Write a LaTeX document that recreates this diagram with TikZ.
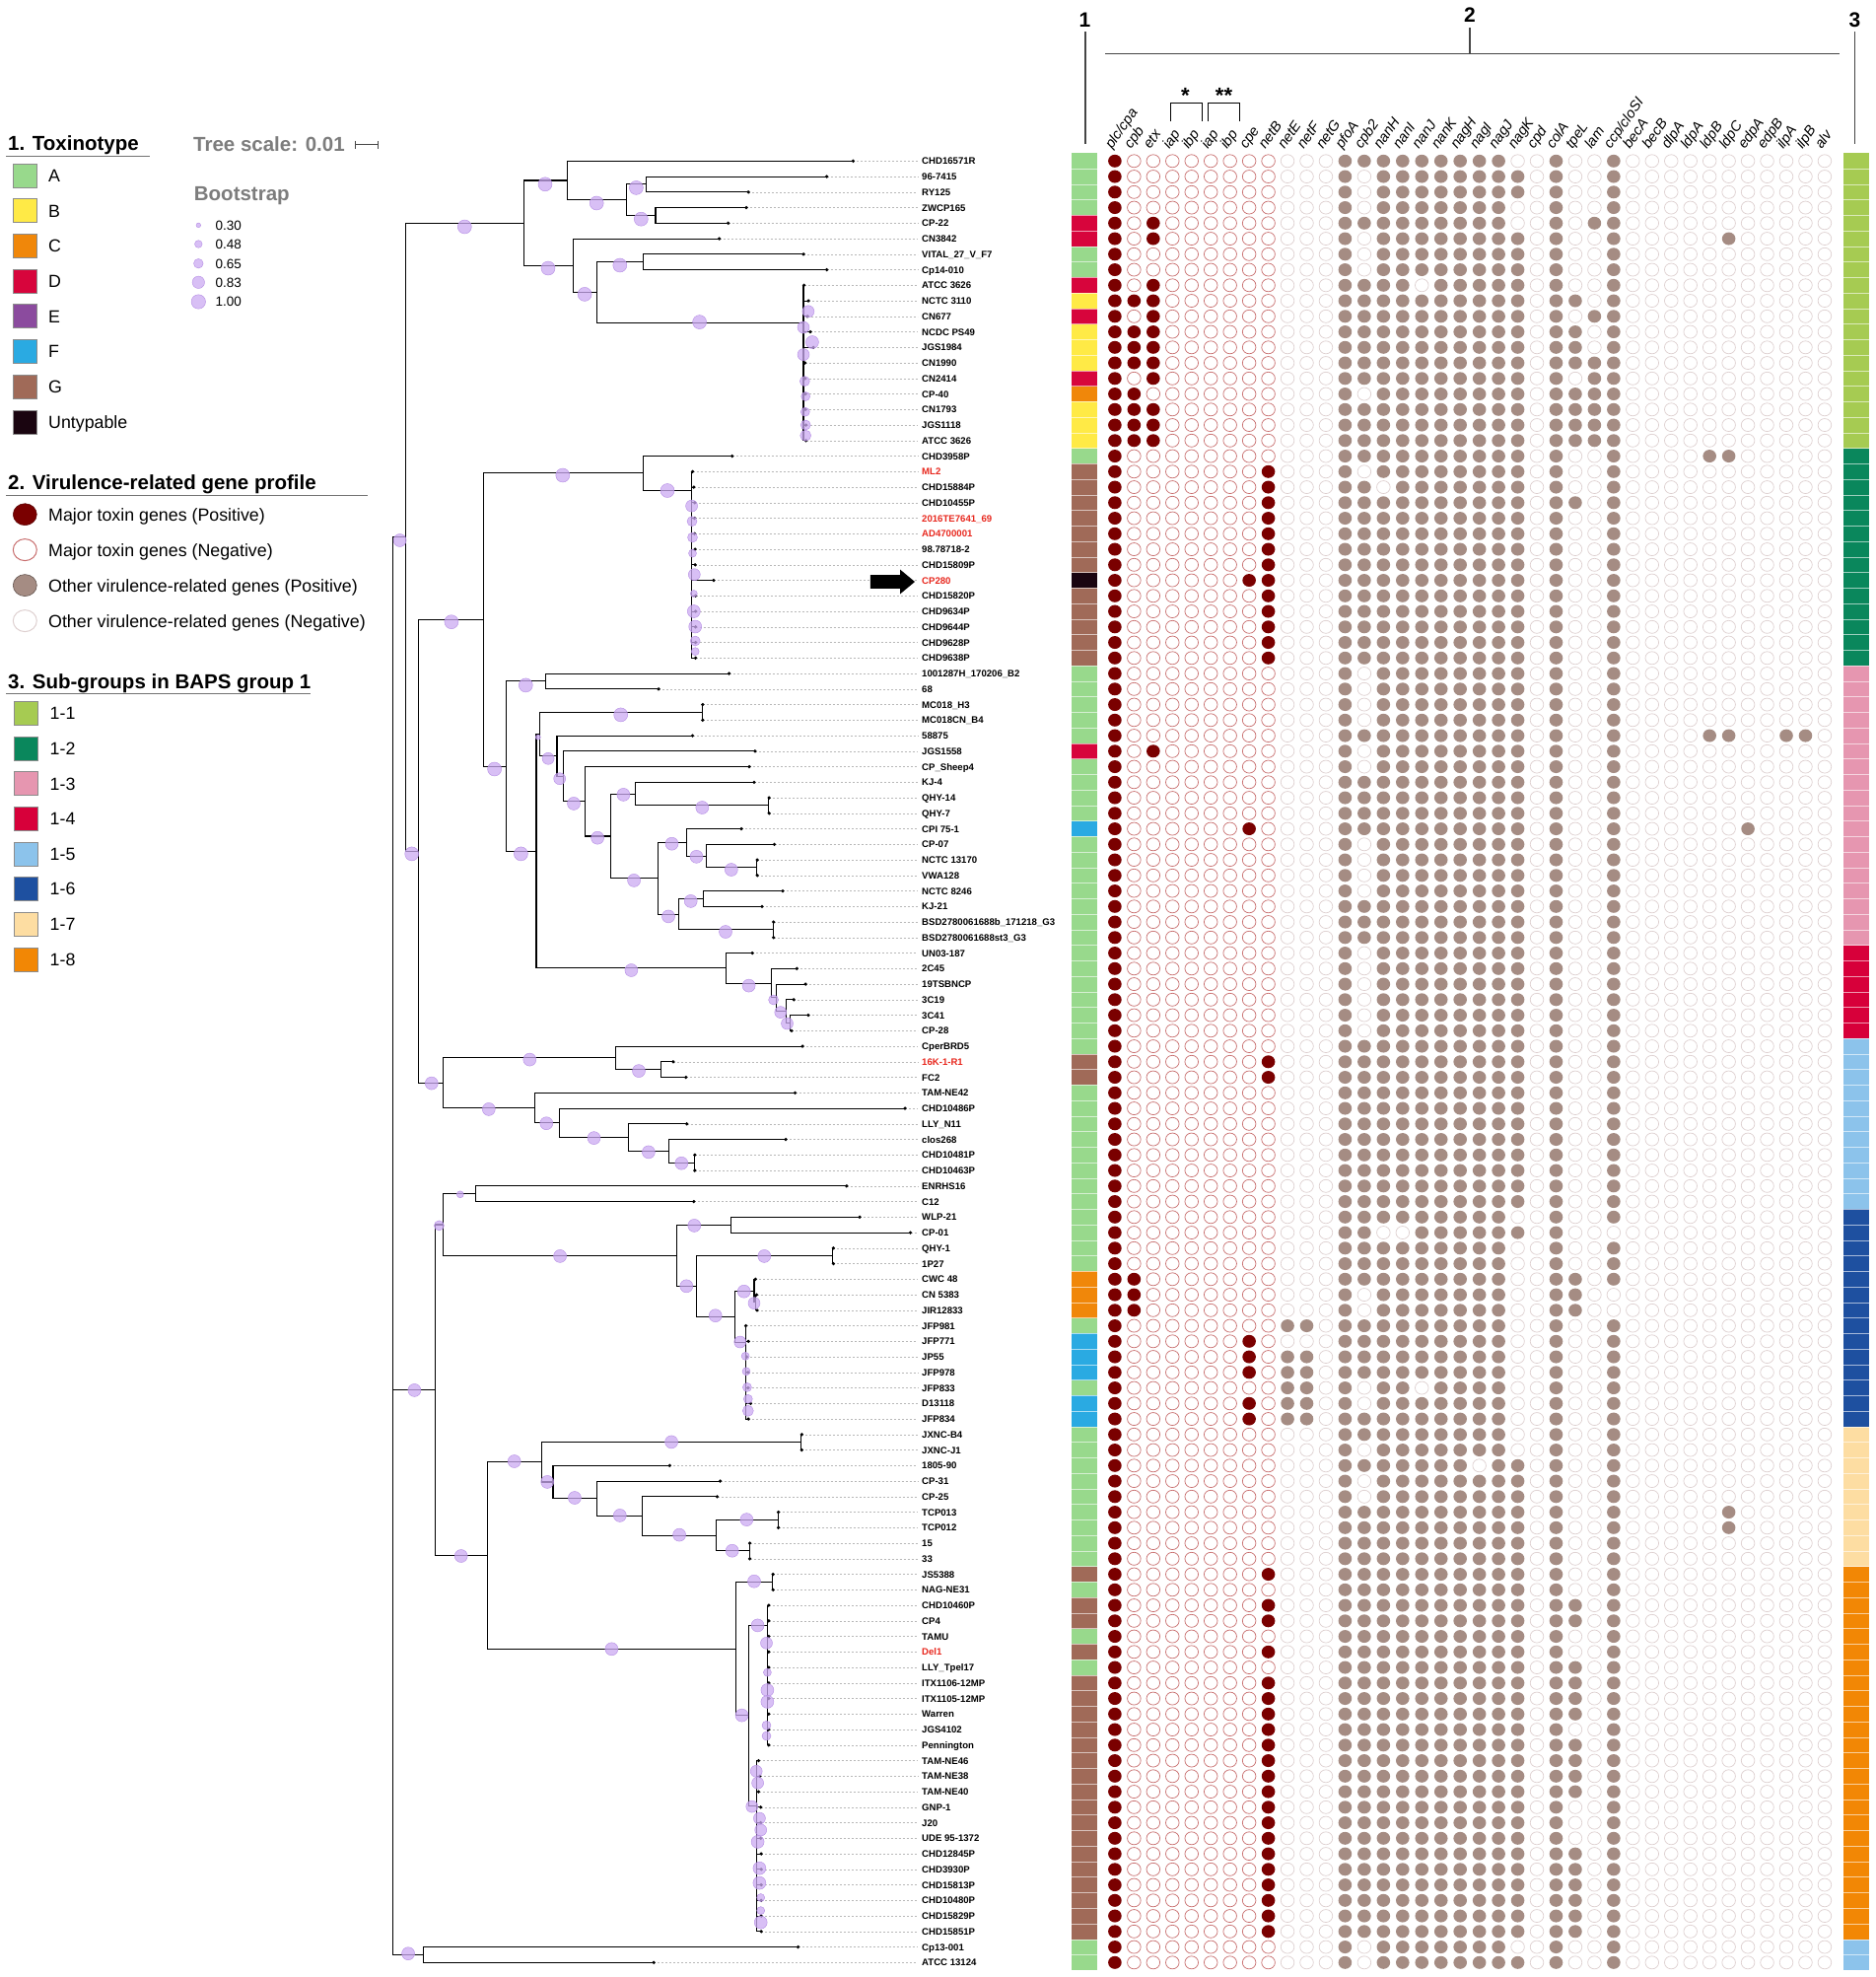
\documentclass[tikz,border=0pt]{standalone}
\usepackage{fontspec}
\setmainfont{Liberation Sans}
\definecolor{toxA}{RGB}{152,217,140}
\definecolor{toxB}{RGB}{255,234,70}
\definecolor{toxC}{RGB}{240,135,10}
\definecolor{toxD}{RGB}{215,5,60}
\definecolor{toxE}{RGB}{139,75,158}
\definecolor{toxF}{RGB}{42,170,226}
\definecolor{toxG}{RGB}{160,106,88}
\definecolor{toxU}{RGB}{26,5,16}
\definecolor{bap1}{RGB}{166,203,82}
\definecolor{bap2}{RGB}{10,135,92}
\definecolor{bap3}{RGB}{230,150,176}
\definecolor{bap4}{RGB}{215,0,58}
\definecolor{bap5}{RGB}{140,195,235}
\definecolor{bap6}{RGB}{30,80,160}
\definecolor{bap7}{RGB}{253,221,162}
\definecolor{bap8}{RGB}{242,135,5}
\definecolor{majred}{RGB}{122,0,0}
\definecolor{majline}{RGB}{200,110,110}
\definecolor{othbrown}{RGB}{165,140,131}
\definecolor{othline}{RGB}{222,208,208}
\definecolor{bsfill}{RGB}{204,170,242}
\definecolor{bsdraw}{RGB}{180,140,228}
\definecolor{labred}{RGB}{232,40,30}
\definecolor{headgray}{RGB}{125,125,125}
\definecolor{rulegray}{RGB}{70,70,70}
\tikzset{
 branch/.style={line width=1.1pt, black, line cap=rect},
 leader/.style={black!28, line width=0.5pt, dash pattern=on 2pt off 2pt},
 bsc/.style={fill=bsfill, draw=bsdraw, line width=0.4pt, fill opacity=0.75},
 majpos/.style={fill=majred},
 majneg/.style={draw=majline, line width=0.7pt},
 othpos/.style={fill=othbrown},
 othneg/.style={draw=othline, line width=0.7pt},
 leaflab/.style={anchor=base west, inner sep=0pt, font=\fontsize{9.6}{10}\selectfont\bfseries},
 genelab/.style={anchor=base west, inner sep=0pt, rotate=55, font=\fontsize{14.5}{15}\selectfont\itshape},
 legtxt/.style={anchor=base west, inner sep=0pt, font=\fontsize{17.8}{20}\selectfont},
 leghead/.style={anchor=base west, inner sep=0pt, font=\fontsize{20.5}{22}\selectfont\bfseries},
 graytxt/.style={anchor=base west, inner sep=0pt, text=headgray, font=\fontsize{20.5}{22}\selectfont\bfseries},
 bstxt/.style={anchor=base west, inner sep=0pt, font=\fontsize{13.5}{15}\selectfont},
 sepline/.style={white, line width=0.4pt, opacity=0.6},
 hrule/.style={rulegray, line width=1.1pt},
}
\newcommand\RY[1]{(163.3+15.75*((#1)-1))}
\newcommand\brV[3]{\draw[branch] (#1,{\RY{#2}}) -- (#1,{\RY{#3}});}
\newcommand\brH[3]{\draw[branch] (#1,{\RY{#2}}) -- (#3,{\RY{#2}});}
\newcommand\brL[3]{\draw[leader] (#3,{\RY{#2}}) -- (931,{\RY{#2}});\draw[branch] (#1,{\RY{#2}}) -- (#3,{\RY{#2}});\fill (#3,{\RY{#2}}) circle (1.8pt);}
\newcommand\bs[3]{\filldraw[bsc] (#1,#2) circle (#3pt);}
\newcommand\rl[1]{\textcolor{labred}{#1}}
\def\qZ{00000000000}
\def\qMa{100000000}
\def\qMg{100000001}
\def\qE{000}
\def\qPa{111111111101001}
\def\qPb{101111111101001}
\def\qPc{111111111101101}
\def\qPd{111111111001001}
\def\qPf{101111111001001}
\makeatletter
\newcount\gcolc
\newcommand\gdrawrow[2]{\gcolc=0\relax\edef\growi{#1}\edef\gtmp{#2}\expandafter\gdr@w\gtmp\relax}
\def\gdr@w#1{\ifx\relax#1\else\advance\gcolc by 1\relax\gcell{#1}\expandafter\gdr@w\fi}
\newcommand\gcell[1]{%
  \pgfmathsetmacro\gx{1130.9+(\the\gcolc-1)*19.46}%
  \pgfmathsetmacro\gy{163.3+(\growi-1)*15.75}%
  \ifnum\gcolc<10\relax
    \ifnum#1=1\relax\fill[majpos] (\gx,\gy) ellipse (6.8pt and 6.5pt);\else\draw[majneg] (\gx,\gy) ellipse (6.8pt and 6.5pt);\fi
  \else
    \ifnum#1=1\relax\fill[othpos] (\gx,\gy) ellipse (6.8pt and 6.5pt);\else\draw[othneg] (\gx,\gy) ellipse (6.8pt and 6.5pt);\fi
  \fi}
\makeatother
\begin{document}
\begin{tikzpicture}[x=1pt,y=-1pt]
\fill[white] (0,0) rectangle (1903,2005);
\useasboundingbox (0,0) rectangle (1903,2005);

% ================= LEGEND =================
\node[leghead] (h1) at (8,152.5) {1. Toxinotype};
\draw[black!55, line width=0.8pt] (6,158.5) -- (152,158.5);
\foreach \c/\t [count=\k] in {A/A,B/B,C/C,D/D,E/E,F/F,G/G,U/Untypable} {
  \pgfmathsetmacro\yy{177.9+(\k-1)*35.72}
  \filldraw[fill=tox\c, draw=black!45, line width=0.6pt] (13.5,\yy-12) rectangle (37.5,\yy+12);
  \node[legtxt] (tt\k) at (49,\yy+6.4) {\t};
}
\node[leghead] (h2) at (8,496.5) {2. Virulence-related gene profile};
\draw[black!55, line width=0.8pt] (6,502.5) -- (373,502.5);
\filldraw[fill=majred, draw=majred!70!black, line width=0.5pt] (25.3,521.7) ellipse (12pt and 11pt);
\draw[majline, line width=1pt] (25.3,557.6) ellipse (12pt and 11pt);
\filldraw[fill=othbrown, draw=othbrown!60!black, line width=0.6pt] (25.3,593.6) ellipse (12pt and 11pt);
\draw[othline, line width=1pt] (25.3,629.6) ellipse (12pt and 11pt);
\node[legtxt] (g1) at (49,528.1) {Major toxin genes (Positive)};
\node[legtxt] (g2) at (49,564.0) {Major toxin genes (Negative)};
\node[legtxt] (g3) at (49,600.0) {Other virulence-related genes (Positive)};
\node[legtxt] (g4) at (49,636.0) {Other virulence-related genes (Negative)};
\node[leghead] (h3) at (8,698.5) {3. Sub-groups in BAPS group 1};
\draw[black!55, line width=0.8pt] (6,703.8) -- (315,703.8);
\foreach \k in {1,...,8} {
  \pgfmathsetmacro\yy{723.4+(\k-1)*35.63}
  \filldraw[fill=bap\k, draw=black!45, line width=0.6pt] (14.5,\yy-12) rectangle (38.5,\yy+12);
  \node[legtxt] (bl\k) at (50.5,\yy+6.4) {1-\k};
}
\node[graytxt] (ts) at (196,153.5) {Tree scale: 0.01};
\draw[rulegray, line width=1.5pt] (360,146.5) -- (383,146.5);
\draw[rulegray, line width=1pt] (360,142.5) -- (360,150.5);
\draw[rulegray, line width=1pt] (383,142.5) -- (383,150.5);
\node[graytxt] (bt) at (196.7,203) {Bootstrap};
\foreach \yy/\rr/\t [count=\k] in {228.4/2.3/0.30,247.5/3.8/0.48,267.2/4.8/0.65,286.3/6.2/0.83,306/7.2/1.00} {
  \filldraw[bsc] (201.3,\yy) circle (\rr pt);
  \node[bstxt] (bv\k) at (218.3,\yy+4.8) {\t};
}

% ================= HEADER =================
\node[font=\fontsize{21}{22}\selectfont\bfseries, inner sep=0pt] (n1) at (1100.5,20) {1};
\node[font=\fontsize{21}{22}\selectfont\bfseries, inner sep=0pt] (n2) at (1491,15) {2};
\node[font=\fontsize{21}{22}\selectfont\bfseries, inner sep=0pt] (n3) at (1881.5,20) {3};
\draw[hrule] (1101,32) -- (1101,146);
\draw[hrule] (1881.6,32) -- (1881.6,146);
\draw[hrule] (1491,28) -- (1491,54.3);
\draw[hrule] (1121,54.3) -- (1866,54.3);
\draw[black, line width=1pt] (1187.6,123) -- (1187.6,104.3) -- (1219.1,104.3) -- (1219.1,123);
\draw[black, line width=1pt] (1225.4,123) -- (1225.4,104.3) -- (1257.4,104.3) -- (1257.4,123);
\node[font=\fontsize{22}{22}\selectfont\bfseries, inner sep=0pt] (st1) at (1202.5,97) {*};
\node[font=\fontsize{22}{22}\selectfont\bfseries, inner sep=0pt] (st2) at (1241.5,97) {**};
\foreach \g [count=\k] in {plc/cpa,cpb,etx,iap,ibp,iap,ibp,cpe,netB,netE,netF,netG,pfoA,cpb2,nanH,nanI,nanJ,nanK,nagH,nagI,nagJ,nagK,cpd,colA,tpeL,lam,ccp/cloSI,becA,becB,dlpA,ldpA,ldpB,ldpC,edpA,edpB,ilpA,ilpB,alv}
  {\node[genelab] (gene\k) at ({1130.9+(\k-1)*19.46-3},152) {\g};}

% ================= COLOUR STRIPS =================
\foreach \c [count=\i] in {A,A,A,A,D,D,A,A,D,B,D,B,B,B,D,C,B,B,B,A,
 G,G,G,G,G,G,G,U,G,G,G,G,G,A,A,A,A,A,D,A,A,A,A,F,
 A,A,A,A,A,A,A,A,A,A,A,A,A,A,G,G,
 A,A,A,A,A,A,A,A,A,A,A,A,C,C,C,A,F,F,F,A,F,F,
 A,A,A,A,A,A,A,A,A,G,A,G,G,A,G,A,
 G,G,G,G,G,G,G,G,G,G,G,G,G,G,G,G,G,A,A}
 {\fill[tox\c] (1087,{\RY{\i}-7.875}) rectangle (1113,{\RY{\i}+7.875});}
\foreach \a/\b/\c in {1/19/1,20/33/2,34/51/3,52/57/4,58/68/5,69/82/6,83/91/7,92/115/8,116/117/5}
 {\fill[bap\c] (1870,{\RY{\a}-7.875}) rectangle (1896,{\RY{\b}+7.875});}
\foreach \i in {2,...,117} {
 \draw[sepline] (1087,{\RY{\i}-7.875}) -- (1113,{\RY{\i}-7.875});
 \draw[sepline] (1870,{\RY{\i}-7.875}) -- (1896,{\RY{\i}-7.875});
}

% ================= MATRIX =================
\foreach \rs [count=\ri] in {
\qMa\qE\qPd\qZ,\qMa\qE\qPb\qZ,\qMa\qE\qPb\qZ,\qMa\qE\qPf\qZ,
101000000\qE111111111001011\qZ,101000000\qE\qPb00000100000,
\qMa\qE\qPb\qZ,\qMa\qE\qPb\qZ,
101000000\qE111101111101001\qZ,111000000\qE\qPc\qZ,101000000\qE111111111101011\qZ,
111000000\qE\qPc\qZ,111000000\qE\qPc\qZ,111000000\qE111111111101111\qZ,
101000000\qE111111111101011\qZ,110000000\qE101111111101111\qZ,
111000000\qE111111111101111\qZ,111000000\qE111111111101111\qZ,111000000\qE111111111101111\qZ,
\qMa\qE\qPa00001100000,
\qMg\qE\qPb\qZ,\qMg\qE110111111101001\qZ,\qMg\qE\qPc\qZ,
\qMg\qE\qPa\qZ,\qMg\qE\qPa\qZ,\qMg\qE\qPa\qZ,\qMg\qE\qPa\qZ,
100000011\qE\qPa\qZ,
\qMg\qE\qPa\qZ,\qMg\qE\qPa\qZ,\qMg\qE\qPa\qZ,\qMg\qE\qPa\qZ,\qMg\qE\qPa\qZ,
\qMa\qE\qPb\qZ,\qMa\qE\qPb\qZ,\qMa\qE\qPb\qZ,\qMa\qE\qPb\qZ,
\qMa\qE\qPa00001100110,
101000000\qE\qPb\qZ,\qMa\qE\qPb\qZ,
\qMa\qE\qPa\qZ,\qMa\qE\qPa\qZ,\qMa\qE\qPa\qZ,
100000010\qE\qPa00000010000,
\qMa\qE\qPb\qZ,\qMa\qE\qPb\qZ,\qMa\qE\qPb\qZ,\qMa\qE\qPb\qZ,
\qMa\qE\qPa\qZ,\qMa\qE\qPa\qZ,\qMa\qE\qPa\qZ,
\qMa\qE\qPb\qZ,\qMa\qE\qPb\qZ,\qMa\qE\qPb\qZ,\qMa\qE\qPb\qZ,\qMa\qE\qPb\qZ,\qMa\qE\qPb\qZ,
\qMa\qE\qPa\qZ,\qMg\qE\qPa\qZ,\qMg\qE\qPa\qZ,
\qMa\qE\qPa\qZ,\qMa\qE\qPa\qZ,\qMa\qE\qPa\qZ,\qMa\qE\qPa\qZ,\qMa\qE\qPa\qZ,\qMa\qE\qPa\qZ,\qMa\qE\qPa\qZ,\qMa\qE\qPa\qZ,
\qMa\qE\qPd\qZ,\qMa\qE110011111101000\qZ,\qMa\qE\qPd\qZ,\qMa\qE\qPd\qZ,
110000000\qE111111111001101\qZ,110000000\qE101111111001100\qZ,110000000\qE101111111001100\qZ,
\qMa110\qPd\qZ,100000010\qE\qPd\qZ,100000010110\qPd\qZ,100000010110\qPd\qZ,
\qMa110101101111001001\qZ,100000010110\qPf\qZ,100000010110\qPd\qZ,
\qMa\qE\qPd\qZ,\qMa\qE\qPf\qZ,\qMa\qE111111101101001\qZ,
\qMa\qE\qPb\qZ,\qMa\qE\qPb\qZ,\qMa\qE\qPa00000100000,\qMa\qE\qPa00000100000,
\qMa\qE\qPa\qZ,\qMa\qE\qPa\qZ,
\qMg\qE\qPa\qZ,\qMa\qE\qPa\qZ,\qMg\qE\qPc\qZ,\qMg\qE\qPc\qZ,\qMa\qE\qPa\qZ,\qMg\qE\qPa\qZ,
\qMa\qE\qPc\qZ,\qMg\qE\qPc\qZ,\qMg\qE\qPc\qZ,\qMg\qE\qPc\qZ,\qMg\qE\qPa\qZ,
\qMg\qE\qPc\qZ,\qMg\qE\qPc\qZ,\qMg\qE\qPc\qZ,\qMg\qE\qPc\qZ,
\qMg\qE\qPa\qZ,\qMg\qE\qPa\qZ,\qMg\qE\qPa\qZ,
\qMg\qE\qPc\qZ,\qMg\qE\qPc\qZ,\qMg\qE\qPc\qZ,\qMg\qE\qPc\qZ,\qMg\qE\qPc\qZ,\qMg\qE\qPc\qZ,
\qMa\qE\qPf\qZ,\qMa\qE\qPb\qZ}
{\gdrawrow{\ri}{\rs}}

% ================= TREE =================
\brV{398.9}{25.22}{116.5}
\brH{398.9}{25.22}{411.4}
\brH{398.9}{80.14}{441.3}
\brH{398.9}{116.5}{429.3}
\brV{411.4}{4.99}{45.45}
\brH{411.4}{4.99}{531.5}
\brH{411.4}{45.45}{424.8}
\brV{531.5}{2.25}{7.725}
\brH{531.5}{2.25}{575.3}
\brH{531.5}{7.725}{581.5}
\brV{575.3}{1}{3.5}
\brL{575.3}{1}{865.4}
\brH{575.3}{3.5}{635.5}
\brV{635.5}{2.5}{4.5}
\brH{635.5}{2.5}{655.6}
\brH{635.5}{4.5}{665.0}
\brV{655.6}{2}{3}
\brL{655.6}{2}{838.7}
\brL{655.6}{3}{759.2}
\brV{665.0}{4}{5}
\brL{665.0}{4}{757.0}
\brL{665.0}{5}{738.7}
\brV{581.5}{6}{9.45}
\brL{581.5}{6}{729.7}
\brH{581.5}{9.45}{605.2}
\brV{605.2}{7.5}{11.4}
\brH{605.2}{7.5}{652.5}
\brH{605.2}{11.4}{815.0}
\brV{652.5}{7}{8}
\brL{652.5}{7}{815.0}
\brL{652.5}{8}{838.7}
\brV{815.0}{9}{19}
\brL{815}{9}{815.5}
\brL{815}{10}{820}
\brL{815}{11}{819}
\brL{815}{12}{822}
\brL{815}{13}{825}
\brL{815}{14}{816.5}
\brL{815}{15}{816.5}
\brL{815}{16}{817}
\brL{815}{17}{817}
\brL{815}{18}{817.5}
\brL{815}{19}{817.5}
\brV{424.8}{30.54}{60.36}
\brH{424.8}{30.54}{490.4}
\brH{424.8}{60.36}{449.8}
\brV{490.4}{21.1}{39.97}
\brH{490.4}{21.1}{652.5}
\brH{490.4}{39.97}{513.2}
\brV{652.5}{20}{22.2}
\brL{652.5}{20}{742.7}
\brH{652.5}{22.2}{701.6}
\brV{701.6}{21}{33}
\brL{701.6}{21}{702.5}
\brL{701.6}{22}{703.8}
\brL{701.6}{23}{704.7}
\brL{701.6}{24}{704.5}
\brL{701.6}{25}{704.5}
\brL{701.6}{26}{705}
\brL{701.6}{27}{705.2}
\brL{701.6}{28}{723.9}
\foreach \q in {29,...,33} {\brL{701.6}{\q}{705.6}}
\brV{513.2}{34.5}{45.44}
\brH{513.2}{34.5}{553.8}
\brH{513.2}{45.44}{544.0}
\brV{553.8}{34}{35}
\brL{553.8}{34}{739.6}
\brL{553.8}{35}{668.1}
\brV{544.0}{37.9}{52.97}
\brH{544.0}{37.9}{547.1}
\brH{544.0}{52.97}{736.9}
\brV{547.1}{36.5}{39.31}
\brH{547.1}{36.5}{712.3}
\brH{547.1}{39.31}{565.0}
\brV{712.3}{36}{37}
\brL{712.3}{36}{712.8}
\brL{712.3}{37}{712.8}
\brV{565.0}{38}{40.62}
\brL{565.0}{38}{702.5}
\brH{565.0}{40.62}{571.7}
\brV{571.7}{39}{42.23}
\brL{571.7}{39}{765.9}
\brH{571.7}{42.23}{593.1}
\brV{593.1}{40}{44.47}
\brL{593.1}{40}{760.1}
\brH{593.1}{44.47}{619.5}
\brV{619.5}{41.75}{47.19}
\brH{619.5}{41.75}{644.9}
\brH{619.5}{47.19}{667.2}
\brV{644.9}{41}{42.5}
\brL{644.9}{41}{765.0}
\brH{644.9}{42.5}{779.7}
\brV{779.7}{42}{43}
\brL{779.7}{42}{780.2}
\brL{779.7}{43}{780.2}
\brV{667.2}{44.875}{49.5}
\brH{667.2}{44.875}{696.7}
\brH{667.2}{49.5}{688.2}
\brV{696.7}{44}{45.75}
\brL{696.7}{44}{752.1}
\brH{696.7}{45.75}{716.8}
\brV{716.8}{45}{46.5}
\brL{716.8}{45}{785.5}
\brH{716.8}{46.5}{767.7}
\brV{767.7}{46}{47}
\brL{767.7}{46}{768.2}
\brL{767.7}{47}{768.2}
\brV{688.2}{48.5}{50.5}
\brH{688.2}{48.5}{713.2}
\brH{688.2}{50.5}{784.2}
\brV{713.2}{48}{49}
\brL{713.2}{48}{794.0}
\brL{713.2}{49}{773.0}
\brV{784.2}{50}{51}
\brL{784.2}{50}{784.7}
\brL{784.2}{51}{784.7}
\brV{736.9}{52}{53.94}
\brL{736.9}{52}{763.2}
\brH{736.9}{53.94}{782.9}
\brV{782.9}{53}{54.875}
\brL{782.9}{53}{808.3}
\brH{782.9}{54.875}{787.8}
\brV{787.8}{54}{55.75}
\brL{787.8}{54}{817.2}
\brH{787.8}{55.75}{797.1}
\brV{797.1}{55}{56.5}
\brL{797.1}{55}{805.2}
\brH{797.1}{56.5}{801.6}
\brV{801.6}{56}{57}
\brL{801.6}{56}{819.9}
\brL{801.6}{57}{803.0}
\brV{449.8}{58.75}{61.97}
\brH{449.8}{58.75}{624.8}
\brH{449.8}{61.97}{542.2}
\brV{624.8}{58}{59.5}
\brL{624.8}{58}{814.1}
\brH{624.8}{59.5}{670.4}
\brV{670.4}{59}{60}
\brL{670.4}{59}{682.9}
\brL{670.4}{60}{695.8}
\brV{542.2}{61}{62.94}
\brL{542.2}{61}{806.5}
\brH{542.2}{62.94}{567.7}
\brV{567.7}{62}{63.875}
\brL{567.7}{62}{918.1}
\brH{567.7}{63.875}{637.8}
\brV{637.8}{63}{64.75}
\brL{637.8}{63}{696.7}
\brH{637.8}{64.75}{678.8}
\brV{678.8}{64}{65.5}
\brL{678.8}{64}{797.1}
\brH{678.8}{65.5}{704.3}
\brV{704.3}{65}{66}
\brL{704.3}{65}{704.8}
\brL{704.3}{66}{704.8}
\brV{441.3}{69.49}{90.79}
\brH{441.3}{69.49}{449.8}
\brH{441.3}{90.79}{494.4}
\brV{449.8}{67.5}{71.475}
\brH{449.8}{67.5}{482.9}
\brH{449.8}{71.475}{686.9}
\brV{482.9}{67}{68}
\brL{482.9}{67}{858.8}
\brL{482.9}{68}{703.8}
\brV{686.9}{69.5}{73.45}
\brH{686.9}{69.5}{741.7}
\brH{686.9}{73.45}{706.9}
\brV{741.7}{69}{70}
\brL{741.7}{69}{872.1}
\brL{741.7}{70}{923.5}
\brV{706.9}{71.5}{75.4}
\brH{706.9}{71.5}{844.9}
\brH{706.9}{75.4}{745.8}
\brV{844.9}{71}{72}
\brL{844.9}{71}{845.4}
\brL{844.9}{72}{845.4}
\brV{745.8}{73.75}{77.05}
\brH{745.8}{73.75}{765.0}
\brH{745.8}{77.05}{756.1}
\brV{765.0}{73}{74.5}
\brL{765.0}{73}{766.3}
\brH{765.0}{74.5}{766.5}
\brV{766.5}{74}{75}
\brL{766.5}{74}{767.5}
\brL{766.5}{75}{768.0}
\brV{756.1}{76}{82}
\brL{756.1}{76}{756.6}
\brL{756.1}{77}{759.2}
\brL{756.1}{78}{757.4}
\brL{756.1}{79}{758.8}
\brL{756.1}{80}{758.8}
\brL{756.1}{81}{761.4}
\brL{756.1}{82}{759.2}
\brV{494.4}{84.78}{96.8}
\brH{494.4}{84.78}{549.8}
\brH{494.4}{96.8}{746.3}
\brV{549.8}{83.5}{86.06}
\brH{549.8}{83.5}{812.8}
\brH{549.8}{86.06}{561.0}
\brV{812.8}{83}{84}
\brL{812.8}{83}{813.3}
\brL{812.8}{84}{813.3}
\brV{561.0}{85}{87.125}
\brL{561.0}{85}{679.3}
\brH{561.0}{87.125}{605.2}
\brV{605.2}{86}{88.25}
\brL{605.2}{86}{730.6}
\brH{605.2}{88.25}{651.6}
\brV{651.6}{87}{89.5}
\brL{651.6}{87}{727.5}
\brH{651.6}{89.5}{726.2}
\brV{726.2}{88.5}{90.5}
\brH{726.2}{88.5}{789.1}
\brH{726.2}{90.5}{760.1}
\brV{789.1}{88}{89}
\brL{789.1}{88}{789.6}
\brL{789.1}{89}{789.6}
\brV{760.1}{90}{91}
\brL{760.1}{90}{760.6}
\brL{760.1}{91}{760.6}
\brV{746.3}{92.5}{101.1}
\brH{746.3}{92.5}{783.75}
\brH{746.3}{101.1}{759.2}
\brV{783.75}{92}{93}
\brL{783.75}{92}{784.2}
\brL{783.75}{93}{784.2}
\brV{759.2}{95.3}{106.9}
\brH{759.2}{95.3}{778.8}
\brH{759.2}{106.9}{767.2}
\brV{778.8}{94}{103}
\foreach \q in {94,...,103} {\brL{778.8}{\q}{779.8}}
\brV{767.2}{104}{115}
\brL{767.2}{104}{769.5}
\brL{767.2}{105}{770.8}
\brL{767.2}{106}{769.5}
\foreach \q in {107,108,109} {\brL{767.2}{\q}{771.7}}
\foreach \q in {110,...,115} {\brL{767.2}{\q}{772.2}}
\brV{429.3}{116}{117}
\brL{429.3}{116}{809.6}
\brL{429.3}{117}{663.2}

% bootstrap circles
\foreach \x/\y/\r in {405.6/548/6.5, 471.3/230/7, 553/186.8/7, 605.2/206/7, 645.4/190.4/7, 650.3/222.2/7,
 556/272/7, 593.1/298.4/7, 628.8/269/7, 709.6/326.6/7,
 819.9/315.8/6, 815/332/6, 823.9/347/6.5, 815/359.6/6, 816.3/386.6/5, 817.2/402/4.5, 816.8/417.7/4.5, 817.2/431/5, 817.2/441.7/5.5,
 417.7/865.9/7, 457.9/630.7/7, 570.8/482/7, 677/497.5/7,
 701.6/513.1/6, 702/528.7/5, 702.5/545/5, 702.5/561.1/4, 704.3/582.7/6, 703.8/602/3.5, 703.8/620/6.5, 705.2/635.5/6.5, 705.2/650/5, 705.2/660.7/4,
 501.6/780/7, 533.3/694.9/7, 528.4/865.9/7, 545.8/747.7/2.5, 629.7/724.9/7, 556.1/769.3/6, 567.7/789.7/6, 582/814.9/6.5,
 606.1/849.7/6.5, 632.4/805.9/6.5, 712.3/819/6.5, 643.1/892.9/6.5, 681.5/855.7/6.5, 706.5/868.8/6.5, 741.8/882/6.5,
 678/929.4/6.5, 700.7/913.9/6.5, 736/945/6.5, 640.4/984/6.5, 759.6/999.6/6.5, 784.6/1014/5, 791.8/1026.6/6, 798.5/1038/6,
 537.3/1074.6/6.5, 648/1086.1/6.5, 437.8/1098.6/6.5, 495.8/1124.9/6.5, 554.3/1139.2/6.5, 602.5/1154.1/6.5, 657.9/1168.4/6.5, 691.3/1179.7/6.5,
 466.8/1211.3/3.5, 445.4/1242.9/5, 704.3/1242.9/6.5, 568.1/1273.9/6.5, 775.3/1273.9/6.5, 696.3/1304.3/6.5, 725.7/1334.2/6.5,
 754.7/1309.7/6.5, 765/1321.6/6, 750.7/1361/6, 756.1/1375.3/4, 757/1390.8/4, 757.9/1406.9/4.5, 758.8/1418.8/4.5, 758.8/1430.8/5.5,
 420.4/1409.9/6.5, 467.7/1578/6.5, 521.7/1482/6.5, 681.1/1462.4/6.5, 555.2/1502.9/6.5, 582.9/1519/6.5, 628.8/1536.9/6.5,
 689.1/1556.6/6.5, 757.4/1541.1/6.5, 742.7/1572.7/6.5, 620.4/1672.3/6.5, 765/1603.7/6.5, 752.5/1739.6/6.5, 768.6/1648.4/6.5,
 777.5/1666.3/6, 778.4/1696.1/4, 778.4/1714/6.5, 778.4/1725.9/6.5, 777.5/1749.8/4.5, 777.5/1760.5/4.5,
 762.8/1832.1/6, 767.2/1796.3/6, 768.6/1808.2/6, 770.4/1844/6, 771.7/1855.9/6, 768.6/1867.9/6.5, 770.4/1894.7/6.5,
 770.4/1909.6/6.5, 771.7/1924.5/4, 771.7/1937.6/4, 771.7/1949.6/6.5, 414.1/1981.2/6.5}
 {\bs{\x}{\y}{\r}}

% arrow to CP280
\fill[black] (882.9,583.2) -- (913.2,583.2) -- (913.2,577.7) -- (928,590) -- (913.2,602.3) -- (913.2,596.8) -- (882.9,596.8) -- cycle;

% leaf labels
\foreach \nm [count=\i] in {CHD16571R,96-7415,RY125,ZWCP165,CP-22,CN3842,VITAL\_27\_V\_F7,Cp14-010,ATCC 3626,NCTC 3110,
CN677,NCDC PS49,JGS1984,CN1990,CN2414,CP-40,CN1793,JGS1118,ATCC 3626,CHD3958P,
\rl{ML2},CHD15884P,CHD10455P,\rl{2016TE7641\_69},\rl{AD4700001},98.78718-2,CHD15809P,\rl{CP280},CHD15820P,CHD9634P,
CHD9644P,CHD9628P,CHD9638P,1001287H\_170206\_B2,68,MC018\_H3,MC018CN\_B4,58875,JGS1558,CP\_Sheep4,
KJ-4,QHY-14,QHY-7,CPI 75-1,CP-07,NCTC 13170,VWA128,NCTC 8246,KJ-21,BSD2780061688b\_171218\_G3,
BSD2780061688st3\_G3,UN03-187,2C45,19TSBNCP,3C19,3C41,CP-28,CperBRD5,\rl{16K-1-R1},FC2,
TAM-NE42,CHD10486P,LLY\_N11,clos268,CHD10481P,CHD10463P,ENRHS16,C12,WLP-21,CP-01,
QHY-1,1P27,CWC 48,CN 5383,JIR12833,JFP981,JFP771,JP55,JFP978,JFP833,
D13118,JFP834,JXNC-B4,JXNC-J1,1805-90,CP-31,CP-25,TCP013,TCP012,15,
33,JS5388,NAG-NE31,CHD10460P,CP4,TAMU,\rl{Del1},LLY\_Tpel17,ITX1106-12MP,ITX1105-12MP,
Warren,JGS4102,Pennington,TAM-NE46,TAM-NE38,TAM-NE40,GNP-1,J20,UDE 95-1372,CHD12845P,
CHD3930P,CHD15813P,CHD10480P,CHD15829P,CHD15851P,Cp13-001,ATCC 13124}
 {\node[leaflab] (lab\i) at (935,{\RY{\i}+3.45}) {\nm};}
\end{tikzpicture}
\end{document}
